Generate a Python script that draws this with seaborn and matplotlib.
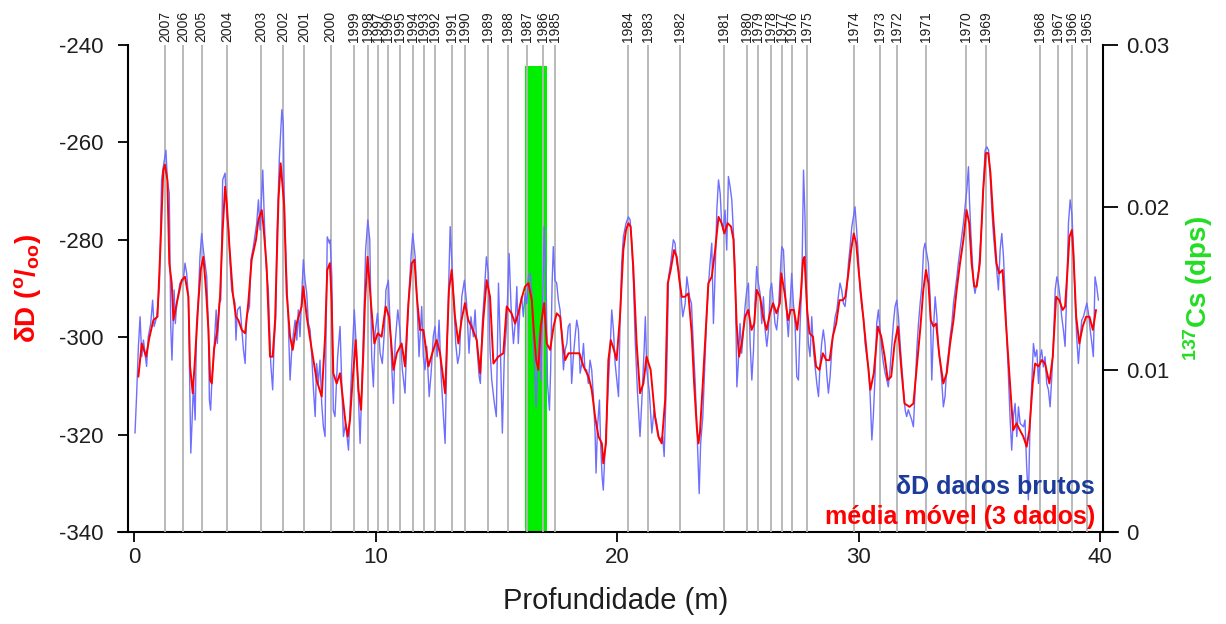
import matplotlib
matplotlib.use("Agg")
import matplotlib.pyplot as plt
import matplotlib.transforms as mtransforms
from matplotlib.lines import Line2D
import seaborn as sns
import pandas as pd

# ---------------- data ----------------
raw_depth = [0.04, 0.11, 0.18, 0.25, 0.32, 0.39, 0.52, 0.59, 0.69, 0.77, 0.83, 0.94, 1.05, 1.14, 1.21, 1.32, 1.38, 1.46,
             1.52, 1.57, 1.66, 1.71, 1.77, 1.90, 2.04, 2.11, 2.18, 2.25, 2.35, 2.40, 2.46, 2.53, 2.59, 2.66, 2.73, 2.80,
             2.87, 2.94, 3.01, 3.08, 3.12, 3.17, 3.23, 3.28, 3.40, 3.45, 3.53, 3.59, 3.67, 3.77, 3.84, 3.92, 3.97, 4.04,
             4.18, 4.22, 4.28, 4.39, 4.53, 4.60, 4.66, 4.78, 4.84, 4.94, 5.08, 5.15, 5.22, 5.33, 5.40, 5.47, 5.56, 5.66,
             5.74, 5.80, 5.87, 5.91, 6.02, 6.12, 6.18, 6.22, 6.29, 6.39, 6.46, 6.53, 6.60, 6.67, 6.74, 6.80, 6.87, 6.94,
             7.01, 7.08, 7.15, 7.22, 7.29, 7.36, 7.43, 7.50, 7.56, 7.63, 7.70, 7.77, 7.84, 7.91, 7.95, 8.00, 8.09,
             8.12, 8.19, 8.25, 8.32, 8.43, 8.53, 8.60, 8.67, 8.76, 8.88, 8.94, 9.01, 9.12, 9.18, 9.26, 9.36, 9.43, 9.54,
             9.59, 9.68, 9.76, 9.84, 9.91, 9.98, 10.08, 10.19, 10.28, 10.37, 10.43, 10.53, 10.60, 10.67, 10.74, 10.81,
             10.92, 11.01, 11.11, 11.22, 11.29, 11.39, 11.47, 11.54, 11.64, 11.72, 11.80, 11.91, 11.98, 12.05, 12.12,
             12.22, 12.30, 12.39, 12.46, 12.55, 12.63, 12.71, 12.81, 12.88, 12.95, 13.02, 13.09, 13.15, 13.22, 13.32,
             13.40, 13.48, 13.57, 13.68, 13.77, 13.87, 13.95, 14.05, 14.12, 14.19, 14.29, 14.34, 14.42, 14.51, 14.59,
             14.67, 14.74, 14.81, 14.92, 15.00, 15.09, 15.16, 15.25, 15.33, 15.43, 15.53, 15.61, 15.71, 15.78, 15.85,
             15.91, 15.98,
             16.05, 16.12, 16.19, 16.26, 16.33, 16.40, 16.47, 16.54, 16.60, 16.65, 16.70, 16.78, 16.84, 16.92, 16.98,
             17.06, 17.12, 17.20, 17.25, 17.31, 17.36, 17.43, 17.50, 17.57, 17.64, 17.71, 17.78, 17.85, 17.92, 17.98,
             18.05, 18.12, 18.19, 18.26, 18.33, 18.40, 18.47, 18.54, 18.61, 18.67, 18.74, 18.81, 18.88, 18.95, 19.02,
             19.09, 19.13, 19.19, 19.27, 19.32, 19.38, 19.43, 19.49, 19.57, 19.64, 19.71, 19.78, 19.85, 19.92, 19.99,
             20.06, 20.12, 20.19, 20.26, 20.37, 20.47, 20.54, 20.61, 20.68, 20.75, 20.84, 20.95, 21.02, 21.12, 21.17,
             21.23, 21.34, 21.44, 21.53, 21.64, 21.75, 21.89, 21.95, 22.00, 22.06, 22.13, 22.22, 22.33, 22.40, 22.47,
             22.55, 22.64, 22.72, 22.82, 22.89, 23.00, 23.08, 23.16, 23.23, 23.30, 23.40, 23.46, 23.55, 23.64, 23.71,
             23.78, 23.85, 23.92, 23.99, 24.06, 24.13, 24.20,
             24.27, 24.33, 24.40, 24.47, 24.54, 24.61, 24.68, 24.75, 24.82, 24.89, 24.96, 25.02, 25.09, 25.16, 25.23,
             25.30, 25.37, 25.44, 25.51, 25.58, 25.65, 25.71, 25.78, 25.85, 25.92, 25.99, 26.06, 26.13, 26.20, 26.27,
             26.34, 26.40, 26.47, 26.54, 26.61, 26.68, 26.75, 26.82, 26.89, 26.96, 27.03, 27.09, 27.16, 27.23, 27.30,
             27.37, 27.44, 27.51, 27.58, 27.65, 27.72, 27.78, 27.85, 27.92, 27.99, 28.06, 28.13, 28.20, 28.27, 28.34,
             28.41, 28.47, 28.54, 28.61, 28.68, 28.75, 28.82, 28.89, 28.96, 29.03, 29.10, 29.16, 29.23, 29.30, 29.37,
             29.44, 29.51, 29.58, 29.65, 29.72, 29.79, 29.85, 29.92, 29.99, 30.06, 30.13, 30.20, 30.27, 30.34, 30.41,
             30.48, 30.55, 30.61, 30.68, 30.75, 30.82, 30.89, 30.96, 31.03, 31.10, 31.17, 31.23, 31.30, 31.37, 31.44,
             31.51, 31.58, 31.65, 31.72, 31.79, 31.86, 31.93, 31.99, 32.06, 32.20,
             32.27, 32.34, 32.41, 32.48, 32.55, 32.62, 32.69, 32.75, 32.82, 32.89, 32.96, 33.03, 33.10, 33.17, 33.24,
             33.31, 33.38, 33.44, 33.51, 33.58, 33.65, 33.72, 33.79, 33.86, 33.93, 34.00, 34.07, 34.13, 34.20, 34.27,
             34.34, 34.41, 34.48, 34.55, 34.59, 34.65, 34.70, 34.76, 34.82, 34.89, 34.96, 35.03, 35.10, 35.17, 35.24,
             35.31, 35.38, 35.45, 35.51, 35.58, 35.65, 35.72, 35.79, 35.86, 35.93, 36.00, 36.07, 36.14, 36.20, 36.27,
             36.34, 36.41, 36.48, 36.55, 36.62, 36.69, 36.83, 36.89, 36.96, 37.03, 37.10, 37.17, 37.24, 37.31, 37.38,
             37.45, 37.52, 37.58, 37.65, 37.72, 37.79, 37.86, 37.93, 38.00, 38.07, 38.14, 38.21, 38.27, 38.34, 38.41,
             38.48, 38.55, 38.62, 38.69, 38.76, 38.83, 38.90, 38.96, 39.03, 39.10, 39.17, 39.24, 39.31, 39.38, 39.45,
             39.52, 39.59, 39.66, 39.72, 39.79, 39.86, 39.93]

raw_dD = [-319.7, -311.5, -302.0, -295.8, -304.0, -300.6, -306.0, -299.9, -297.2, -292.4, -297.8, -295.8, -289.6, -267.7,
          -265.0, -261.6, -267.7, -270.5, -297.8, -304.7, -290.3, -297.2, -293.0, -288.9, -288.3, -284.8, -286.9, -291.7,
          -323.8, -317.7, -309.5, -317.0, -297.2, -292.4, -283.5, -278.7, -282.1, -284.8, -287.6, -298.5, -312.9, -315.0,
          -308.1, -305.4, -294.4, -301.3, -293.0, -292.4, -267.7, -266.3, -275.2, -278.0, -284.1, -290.3, -293.0, -300.6,
          -294.4, -293.7, -302.6, -305.4, -295.8, -293.7, -284.1, -281.4, -276.6, -271.8, -278.0, -265.7, -276.6, -285.5,
          -290.3, -305.4, -310.8, -301.3, -295.8, -280.7, -262.9, -253.3, -256.1, -271.8, -283.5, -297.2, -308.8, -302.6,
          -299.2, -296.5, -300.6, -294.4, -299.9, -291.7, -284.1, -288.3, -291.0, -297.2, -298.5, -304.0, -310.8, -316.3,
          -305.4, -309.5, -304.7, -313.6, -318.4, -320.4, -299.2, -279.4, -280.7,
          -280.0, -287.6, -315.0, -316.3, -304.0, -297.8, -309.5, -320.4, -317.7, -323.2, -315.0, -306.0, -294.4, -299.9,
          -308.1, -321.8, -310.2, -291.7, -282.1, -275.9, -280.0, -304.0, -310.2, -299.2, -295.1, -303.3, -305.4, -298.5,
          -290.3, -288.3, -297.2, -306.0, -313.6, -301.3, -294.4, -298.5, -306.7, -311.5, -301.3, -290.3, -283.5, -278.7,
          -283.5, -293.0, -304.0, -293.7, -304.0, -306.7, -301.9, -312.2, -307.4, -299.9, -297.8, -304.0, -296.5, -307.4,
          -316.3, -321.8, -304.0, -290.3, -277.3, -283.5, -291.0, -301.3, -305.4, -303.3, -291.7, -288.3, -293.0, -303.3,
          -295.8, -299.9, -294.4, -301.3, -308.1, -309.5, -297.2, -290.3, -283.5, -286.9, -302.6, -308.8, -313.6, -316.3,
          -288.9, -300.6, -319.7, -304.0, -297.2, -282.8, -293.7, -301.3, -297.2, -289.6, -301.3, -293.7,
          -291.7, -295.8, -291.0, -293.1, -287.6, -286.9, -291.0, -301.3, -308.1, -314.3, -306.7, -299.2, -308.8, -293.1,
          -277.3, -287.6, -309.5, -315.0, -306.7, -288.9, -281.4, -288.3, -288.9, -292.4, -294.4, -299.2, -306.7, -302.6,
          -301.3, -297.8, -297.2, -309.5, -304.0, -299.9, -296.5, -298.5, -307.4, -305.4, -301.3, -306.7, -306.7, -309.5,
          -304.7, -306.7, -312.2, -319.7, -327.9, -318.4, -312.9, -321.8, -328.6, -331.4, -324.5, -317.0, -309.5, -302.6,
          -294.4, -298.5, -305.4, -308.8, -312.2, -297.8, -284.8, -279.4, -276.6, -275.3, -275.9, -280.7, -288.9, -300.6,
          -310.8, -320.4, -313.6, -302.6, -295.8, -306.7, -311.5, -319.7, -314.9, -317.7, -321.1, -320.4, -324.5, -316.3,
          -306.1, -287.6, -284.8, -280.0, -280.7, -284.8, -286.2, -291.0, -295.8, -293.1, -287.6, -291.7, -293.1, -301.9,
          -308.8, -317.7, -332.1, -321.8, -316.3, -304.7, -295.8, -289.6, -284.8, -280.7, -297.2, -286.9, -273.9, -267.7,
          -270.5, -276.6, -278.0, -273.9, -282.1, -267.0, -269.1, -271.8, -278.7, -286.2, -310.2, -305.4, -297.2, -303.3,
          -298.5, -293.7, -290.3, -288.9, -301.3, -308.8, -302.6, -293.0, -285.5, -288.9, -291.0, -297.2, -291.7, -298.5,
          -301.9, -298.5, -290.3, -288.9, -293.0, -297.2, -298.5, -294.4, -287.6, -281.4, -282.1, -290.3, -295.8, -299.9,
          -293.7, -286.9, -293.0, -297.2, -308.1, -308.8, -297.2, -288.9, -265.7, -275.2, -293.0, -301.3, -304.0, -295.8,
          -302.6, -306.1, -309.5, -312.2, -305.4, -301.3, -298.5, -301.3, -307.4, -311.5, -308.1, -302.6, -298.5, -295.8,
          -294.4, -291.7, -288.9, -290.3, -293.0, -293.7, -290.3, -284.8, -281.4, -277.3, -275.2, -273.2, -278.0, -283.5,
          -290.3, -293.7, -295.8, -301.3, -304.0, -306.1, -312.2, -321.1, -316.3, -308.1, -297.2, -294.4, -298.5, -302.6,
          -305.4, -307.4, -308.8, -310.2, -306.7, -301.9, -297.2, -293.7, -292.4, -295.8, -301.3, -306.1, -310.8, -315.0,
          -316.3, -314.9, -317.0,
          -318.4, -310.8, -302.6, -297.2, -293.0, -289.6, -282.1, -280.7, -282.8, -284.8, -291.7, -308.8, -298.5, -291.7,
          -295.8, -302.6, -305.4, -308.8, -314.3, -312.2, -306.1, -303.3, -299.9, -297.2, -293.0, -290.3, -287.6, -284.8,
          -282.1, -279.4, -276.6, -273.2, -269.8, -265.0, -271.8, -278.7, -283.5, -288.9, -291.0, -288.9, -286.9, -282.1,
          -276.6, -268.4, -261.6, -260.9, -261.6, -267.0, -273.2, -278.7, -282.8, -286.2, -290.3, -282.1, -278.7, -283.5,
          -291.7, -300.6, -307.4, -316.3, -323.2, -316.3, -313.6, -320.4, -314.3, -317.7, -318.4, -317.0, -326.6, -333.4,
          -317.7, -309.5, -301.3, -304.0, -302.6, -309.5, -304.0, -302.6, -306.1, -304.0, -309.5, -310.8, -314.3, -308.1,
          -300.6, -290.3, -287.6, -288.9, -291.7, -295.8, -298.5, -301.9, -290.3, -276.6, -271.8, -274.6, -282.1, -291.7,
          -299.9, -305.4, -300.6, -296.5, -295.8, -294.4, -293.0, -295.1, -298.5, -301.3, -304.0, -287.6, -289.6, -292.4]

ma_depth = [0.18, 0.32, 0.50, 0.63, 0.80, 0.97, 1.10, 1.21, 1.28, 1.38, 1.46, 1.56, 1.63, 1.77, 1.97, 2.11, 2.25, 2.32,
            2.43, 2.53, 2.66, 2.76, 2.87, 2.98, 3.08, 3.15, 3.22, 3.31, 3.45, 3.56, 3.67, 3.77, 3.84, 3.95, 4.09, 4.22,
            4.32, 4.46, 4.60, 4.73, 4.87, 5.05, 5.15, 5.29, 5.36, 5.49, 5.63, 5.74, 5.84, 5.98, 6.07, 6.21, 6.32, 6.46,
            6.57, 6.73, 6.94, 7.01, 7.15, 7.36, 7.56, 7.77, 7.91, 8.00, 8.11, 8.18, 8.25, 8.39, 8.53, 8.67, 8.76, 8.85,
            8.94, 9.04, 9.18, 9.29, 9.40, 9.50, 9.56, 9.67, 9.81, 9.95, 10.09, 10.25, 10.42, 10.56, 10.74, 10.88, 11.08,
            11.22, 11.36, 11.50, 11.61, 11.71, 11.84, 11.98, 12.19, 12.39, 12.53, 12.67, 12.88, 13.04, 13.15, 13.29,
            13.43, 13.56, 13.70, 13.84, 13.98, 14.19, 14.33, 14.46, 14.60, 14.74, 14.88, 15.08, 15.29, 15.43, 15.63,
            15.78, 15.91, 16.05, 16.19, 16.33, 16.47, 16.56, 16.65, 16.74, 16.84, 16.98, 17.09, 17.23, 17.37, 17.50,
            17.64, 17.75, 17.85, 17.99, 18.19, 18.44, 18.61, 18.82, 18.95, 19.09, 19.23, 19.37, 19.43, 19.54, 19.64,
            19.74, 19.87, 19.98, 20.12, 20.26, 20.37, 20.47, 20.56, 20.67, 20.81, 20.95, 21.09, 21.22, 21.39, 21.57,
            21.71, 21.85, 21.99, 22.10, 22.22, 22.36, 22.47, 22.58, 22.68, 22.81, 22.95, 23.09, 23.19, 23.30, 23.37,
            23.43, 23.55, 23.64, 23.78, 23.92, 24.06, 24.20, 24.33, 24.44, 24.58, 24.72, 24.82, 24.88, 24.95, 25.05,
            25.16, 25.30, 25.43, 25.57, 25.68, 25.78, 25.92, 26.05, 26.19, 26.33, 26.46, 26.60, 26.74, 26.80, 26.94,
            27.08, 27.19, 27.32, 27.46, 27.60, 27.70, 27.76, 27.87, 27.97, 28.11, 28.24, 28.38, 28.52, 28.66, 28.80,
            28.93, 29.07, 29.21, 29.35, 29.45, 29.56, 29.69, 29.80, 29.90, 30.00, 30.11, 30.22, 30.36, 30.49, 30.63,
            30.80, 30.94, 31.08, 31.21, 31.35, 31.49, 31.63, 31.76, 31.90, 32.11, 32.27, 32.41, 32.55, 32.68, 32.79,
            32.89, 32.99, 33.10, 33.21, 33.35, 33.51, 33.65, 33.79, 33.93, 34.06, 34.20, 34.34, 34.47, 34.58, 34.68,
            34.79, 34.89, 35.02, 35.16, 35.27, 35.37, 35.46, 35.57, 35.71, 35.82, 35.96, 36.12, 36.27, 36.40, 36.54,
            36.68, 36.82, 36.96, 37.07, 37.21, 37.31, 37.45, 37.58, 37.72, 37.90, 38.04, 38.18, 38.31, 38.45, 38.55,
            38.65, 38.73, 38.83, 38.90, 39.01, 39.14, 39.28, 39.42, 39.56, 39.70, 39.83]

ma_dD = [-308.1, -301.3, -304.0, -300.2, -296.5, -295.8, -280.7, -265.7, -264.6, -267.7, -284.8, -288.9, -296.5, -293.0,
         -288.3, -287.6, -291.7, -306.0, -311.5, -304.0, -293.0, -286.2, -283.5, -290.3, -298.5, -308.8, -309.5, -302.6,
         -298.5, -291.7, -278.0, -269.1, -272.5, -281.4, -291.0, -295.8, -296.5, -298.5, -299.2, -293.0, -284.1, -280.0,
         -275.9, -273.9, -277.3, -285.5, -304.0, -304.0, -296.5, -271.8, -264.3, -272.5, -291.0, -299.9, -302.6, -297.2,
         -293.7, -289.6, -295.8, -302.6, -308.8, -312.2, -299.9, -286.2, -284.8, -292.4, -307.4, -309.5, -307.4, -313.6,
         -317.7, -320.4, -317.0, -309.5, -300.6, -310.8, -314.9, -302.6, -293.0, -283.5, -293.0, -301.3, -299.2, -299.9,
         -293.7, -295.8, -306.7, -303.3, -301.3, -306.0, -293.0, -284.8, -284.1, -291.7, -298.5, -298.5, -306.0, -302.6,
         -300.6, -303.3, -311.5, -290.3, -286.2, -295.8, -301.3, -296.5, -293.0, -296.5, -297.9, -300.6, -307.4, -296.5,
         -288.3, -291.7, -305.4, -304.0, -303.3, -293.7, -295.1, -297.2, -295.1, -292.0, -289.6, -288.9, -292.4, -299.2,
         -304.7, -306.7, -297.8, -293.0, -301.3, -302.6, -297.8, -295.1, -295.8, -301.3, -304.7, -303.3, -303.3, -303.3,
         -306.0, -308.1, -310.8, -316.3, -320.4, -321.8, -325.9, -321.8, -304.7, -300.6, -302.6, -304.7, -295.8, -282.1,
         -278.0, -276.6, -277.3, -285.5, -301.3, -311.5, -309.5, -304.0, -306.7, -316.3, -320.4, -321.8, -312.9, -288.9,
         -286.2, -282.1, -283.5, -288.3, -291.7, -291.7, -291.0, -299.2, -309.5, -318.4, -321.8, -319.7, -309.5, -301.3,
         -288.9, -287.6, -282.1, -275.3, -276.6, -278.7, -276.6, -277.3, -280.0, -287.6, -297.2, -304.0, -301.3, -295.8,
         -294.4, -298.5, -297.2, -290.3, -291.7, -295.8, -298.5, -295.1, -293.0, -295.1, -293.0, -286.9, -291.0, -296.5,
         -294.4, -294.4, -298.5, -291.7, -284.1, -283.5, -294.4, -299.2, -299.9, -306.0, -306.7, -303.3, -304.7, -304.7,
         -299.9, -297.2, -292.4, -292.4, -291.7, -287.6, -282.1, -278.7, -280.7, -286.2, -291.7, -297.2, -304.0, -310.8,
         -307.4, -297.8, -299.9, -304.0, -308.8, -308.1, -301.3, -297.8, -306.0, -313.6, -314.3, -313.6, -306.0, -298.5,
         -290.3, -286.2, -288.9, -296.5, -297.8, -297.2, -304.0, -309.5, -307.4, -301.3, -296.5, -290.3, -284.8, -280.0,
         -273.9, -276.6, -284.8, -289.6, -289.6, -284.8, -269.8, -262.2, -262.2, -266.3, -275.2, -284.8, -286.9, -286.2,
         -298.5, -309.5, -319.1, -317.7, -319.1, -320.4, -322.5, -319.1, -309.5, -305.4, -306.0, -304.7, -305.4, -309.5,
         -304.0, -291.7, -292.4, -294.4, -293.7, -286.2, -279.4, -278.0, -283.5, -295.8, -301.3, -297.8, -295.8, -295.8,
         -298.5, -294.4]

years = [2007, 2006, 2005, 2004, 2003, 2002, 2001, 2000, 1999, 1998, 1997, 1996, 1995, 1994, 1993, 1992, 1991, 1990,
         1989, 1988, 1987, 1986, 1985, 1984, 1983, 1982, 1981, 1980, 1979, 1978, 1977, 1976, 1975, 1974, 1973, 1972,
         1971, 1970, 1969, 1968, 1967, 1966, 1965]
year_depth = [1.28, 2.02, 2.80, 3.84, 5.26, 6.16, 7.04, 8.14, 9.11, 9.70, 10.12, 10.50, 11.01, 11.57, 11.99, 12.46,
              13.16, 13.71, 14.67, 15.50, 16.29, 16.92, 17.43, 20.47, 21.30, 22.61, 24.43, 25.37, 25.85, 26.36, 26.82,
              27.26, 27.86, 29.81, 30.89, 31.58, 32.79, 34.45, 35.28, 37.52, 38.27, 38.83, 39.47]

cs_depth_top = [16.20]
cs_depth_bottom = [17.08]
cs_activity = [0.0287]

x_ticks = [0, 10, 20, 30, 40]
y_ticks = [-340, -320, -300, -280, -260, -240]
cs_ticks = [0, 0.01, 0.02, 0.03]
cs_tick_labels = ["0", "0.01", "0.02", "0.03"]

# ---------------- styling ----------------
sns.set_theme(style="ticks")
plt.rcParams["font.family"] = ["Liberation Sans", "DejaVu Sans"]
plt.rcParams["axes.unicode_minus"] = False
plt.rcParams["mathtext.fontset"] = "custom"
plt.rcParams["mathtext.rm"] = "Liberation Sans"
plt.rcParams["mathtext.bf"] = "Liberation Sans:bold"
plt.rcParams["mathtext.it"] = "Liberation Sans:italic"

BLUE = "#6e6eff"
RED = "#ff0000"
GREEN = "#00ee00"
GRAY = "#b4b4b4"
TXT = "#1e1e1e"

fig = plt.figure(figsize=(12.26, 6.24), dpi=100)
ax = fig.add_axes([128 / 1226, 1 - 532 / 624, (1103 - 128) / 1226, (532 - 45) / 624])
ax2 = ax.twinx()
ax.set_zorder(2)
ax2.set_zorder(1)
ax.patch.set_visible(False)

# Cs bar (right axis)
for t, b, v in zip(cs_depth_top, cs_depth_bottom, cs_activity):
    ax2.bar(t, v, width=b - t, align="edge", color=GREEN, edgecolor="none", zorder=1)
ax2.set_ylim(0, 0.03)

# year lines
for d in year_depth:
    ax.axvline(d, color=GRAY, lw=1.3, zorder=1)
trans = mtransforms.blended_transform_factory(ax.transData, ax.transAxes)
for d, yr in zip(year_depth, years):
    ax.text(d, 1.006, str(yr), transform=trans, rotation=90, ha="center", va="bottom",
            fontsize=10, color=TXT, clip_on=False)

raw_df = pd.DataFrame({"depth": raw_depth, "dD": raw_dD})
ma_df = pd.DataFrame({"depth": ma_depth, "dD": ma_dD})
sns.lineplot(data=raw_df, x="depth", y="dD", ax=ax, color=BLUE, lw=1.0, estimator=None, zorder=3)
sns.lineplot(data=ma_df, x="depth", y="dD", ax=ax, color=RED, lw=1.4, estimator=None, zorder=4)

ax.set_xlim(-0.25, 40.12)
ax.set_ylim(-340, -240)
ax.set_xticks(x_ticks)
ax.set_yticks(y_ticks)
ax2.set_xlim(-0.25, 40.12)
ax2.set_yticks(cs_ticks)
ax2.set_yticklabels(cs_tick_labels)

for s in ["top", "right", "bottom"]:
    ax.spines[s].set_visible(False)
for s in ["top", "left", "bottom"]:
    ax2.spines[s].set_visible(False)
ax.spines["left"].set_linewidth(1.5)
ax2.spines["right"].set_linewidth(1.5)
ax.spines["left"].set_color("black")
ax2.spines["right"].set_color("black")

# extended bottom axis line
fig.add_artist(Line2D([118 / 1226, 1118 / 1226], [1 - 532 / 624, 1 - 532 / 624], color="black", lw=1.5))

ax.tick_params(axis="y", direction="out", length=7.5, width=1.3, pad=10, labelsize=16, colors="black",
               labelcolor=TXT)
ax.tick_params(axis="x", direction="out", length=7.5, width=1.3, pad=3, labelsize=16, colors="black",
               labelcolor=TXT)
ax2.tick_params(axis="y", direction="out", length=11, width=1.3, pad=6, labelsize=16, colors="black",
                labelcolor=TXT)

ax.set_xlabel("Profundidade (m)", fontsize=21, color=TXT, labelpad=14)
ax.set_ylabel(r"$\mathbf{\delta D\ (^{o}/_{oo})}$", fontsize=20, color=RED, labelpad=12)
ax2.set_ylabel(r"$\mathbf{^{137}Cs\ (dps)}$", fontsize=20, color="#22dd22", labelpad=8)

ax.text(0.992, 0.092, "δD dados brutos", transform=ax.transAxes, ha="right", va="center",
        fontsize=18, fontweight="bold", color="#1c3c9c")
ax.text(0.992, 0.031, "média móvel (3 dados)", transform=ax.transAxes, ha="right", va="center",
        fontsize=18, fontweight="bold", color=RED)

fig.savefig("out.png", dpi=100)
